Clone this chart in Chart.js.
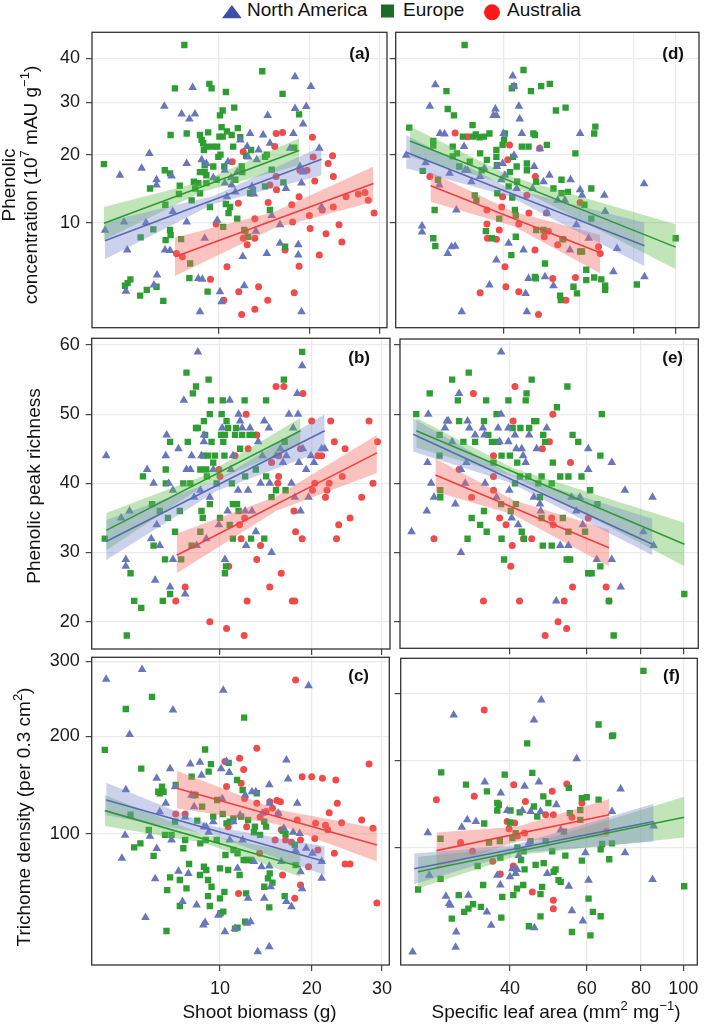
<!DOCTYPE html>
<html><head><meta charset="utf-8">
<script src="https://cdn.jsdelivr.net/npm/chart.js@4.4.0/dist/chart.umd.min.js"></script>
<style>
html,body{margin:0;padding:0;background:#fff;}
#wrap{position:relative;width:709px;height:1027px;overflow:hidden;background:#fff;}
#wrap canvas{position:absolute;}
.lg{position:absolute;top:0;font:19px "Liberation Sans",Arial,Helvetica,sans-serif;line-height:19px;color:#111;white-space:nowrap;}
</style></head><body>
<div id="wrap">
<svg width="709" height="24" style="position:absolute;left:0;top:0">
<polygon points="222,18.3 241.7,18.3 231.9,5" fill="#3D4FA8"/>
<rect x="381" y="4.5" width="13" height="13" fill="#1D6B25"/>
<circle cx="492" cy="12.3" r="8" fill="#FF1A1A"/>
</svg>
<span class="lg" style="left:247px">North America</span>
<span class="lg" style="left:403px">Europe</span>
<span class="lg" style="left:507px">Australia</span>
</div>
<script>
// ---------------- DATA ----------------
const groups = ['North America', 'Europe', 'Australia'];
const xTicksBiomass = [10, 20, 30];
const xTicksSLA = [40, 60, 80, 100];
const yTicksPhenolic = [10, 20, 30, 40];
const yTicksRichness = [20, 30, 40, 50, 60];
const yTicksTrichome = [100, 200, 300];

// (a) shoot biomass vs phenolic concentration
const aNA = [[2.35,9.1],[3.05,16.6],[3.26,10.1],[3.36,3.4],[3.43,6.95],[4.24,17.7],[4.5,10],[4.71,20.2],[5.0,3.85],[5.17,15.9],[5.17,15.1],[5.2,4.65],[5.69,29.2],[5.74,6.95],[6.09,6.9],[6.2,16.5],[6.28,11.4],[6.94,27.6],[7.33,18.5],[7.33,10.1],[7.54,26.6],[7.8,33.2],[7.99,27.6],[8.26,4.37],[8.4,2.1],[8.6,4.3],[8.54,19.1],[8.8,8.2],[8.94,18.5],[9.55,16.2],[9.9,10.3],[10.15,3.37],[10.3,2.7],[10.6,17.4],[10.6,15.4],[10.8,13.4],[10.9,18.8],[11.2,16.2],[11.25,15.1],[11.6,14.1],[11.8,17.1],[12.1,22.6],[12.35,6.3],[12.5,3.8],[12.8,21.4],[12.9,19.6],[13.1,23.8],[13.3,14.9],[13.5,13.8],[13.7,9.0],[13.8,19.1],[14.0,20.8],[14.5,23.5],[14.9,6.6],[15.0,27.3],[15.25,22.0],[15.45,10.9],[16.4,9.75],[16.4,7.65],[17.1,14.6],[17.6,21.1],[18.2,35.6],[18.2,28.7],[18.0,23.8],[18.6,7.5],[18.6,6.45],[18.8,18.0],[19.0,2.1],[19.0,15.4],[19.2,17.1],[19.2,25.6],[19.6,29.1],[20.2,33.4],[21.3,21.1],[21.6,12.0]];
const aEU = [[2.3,18.4],[3.31,3.8],[3.45,4.0],[3.6,4.3],[4.15,3.1],[4.18,8.3],[4.55,3.5],[4.75,14.6],[4.96,9.2],[5.17,3.73],[5.62,2.75],[5.72,17.4],[5.76,12.3],[5.78,8.0],[6.09,16.9],[6.09,9.13],[6.13,8.55],[6.13,23.5],[6.44,33.0],[6.74,13.8],[6.8,15.0],[6.9,8.1],[7.15,43.3],[7.33,23.8],[7.54,4.4],[7.6,5.65],[7.72,12.9],[7.9,15.6],[8.0,14.6],[8.26,15.4],[8.4,23.5],[8.4,17.1],[8.4,13.9],[8.54,22.6],[8.67,22.0],[8.73,20.8],[8.8,18.2],[8.8,17.1],[8.94,21.4],[8.94,16.6],[8.94,15.4],[9.1,24.0],[9.05,3.37],[9.2,34.0],[9.25,12.0],[9.4,33.0],[9.45,21.4],[9.55,18.0],[9.85,15.9],[9.9,21.4],[10.0,19.6],[10.1,23.2],[10.15,27.3],[10.2,20.0],[10.3,25.0],[10.4,28.3],[10.4,23.2],[10.45,9.5],[10.55,18.0],[10.7,32.2],[10.7,12.4],[10.8,24.2],[10.95,11.2],[11.1,12.0],[11.25,23.5],[11.4,21.4],[11.5,28.9],[11.6,15.9],[11.8,10.5],[11.85,24.8],[12.1,23.1],[12.24,18.0],[12.3,17.1],[12.5,9.13],[12.7,19.8],[12.9,8.37],[13.1,13.9],[13.2,20.8],[13.4,14.4],[14.4,36.9],[14.7,14.9],[14.7,19.6],[14.9,20.0],[15.25,11.6],[15.45,17.5],[16.7,31.8],[16.8,15.5],[17.0,7.3],[18.7,27.5],[18.1,21.2]];
const aAU = [[6.56,6.6],[7.0,6.29],[9.3,4.3],[9.8,9.85],[10.5,2.8],[10.8,5.36],[11.3,18.8],[11.9,12.5],[11.95,3.37],[12.24,1.95],[12.4,20.5],[12.4,8.2],[12.6,9.0],[12.8,7.5],[13.6,10.5],[13.6,2.25],[13.6,8.2],[14.0,3.73],[15.0,2.8],[15.05,12.6],[15.25,15.1],[15.95,16.4],[15.8,21.4],[15.95,23.8],[16.0,14.4],[16.7,24.0],[17.0,6.95],[17.8,12.3],[17.9,10.1],[18.1,3.3],[18.7,13.4],[18.7,5.4],[18.8,17.4],[19.7,17.4],[20.0,10.9],[20.1,9.3],[20.4,23.1],[20.5,19.6],[20.7,15.7],[21.3,6.45],[21.7,11.6],[22.2,8.7],[22.5,18.5],[23.1,19.8],[23.2,12.0],[23.2,16.4],[24.0,9.75],[24.4,7.8],[25.0,13.4],[26.8,13.8],[27.8,14.0],[28.3,12.9],[29.2,11.2]];
// fitted lines + confidence bands: x at left/mid/right, line ends, lower, upper
const aNAfitX = [2.34, 9.55, 21.6], aNAline = [7.93, 19.2], aNAlo = [6.04, 12.4, 16.6], aNAhi = [10.1, 13.5, 21.4];
const aEUfitX = [2.30, 8.54, 18.7], aEUline = [9.92, 20.7], aEUlo = [8.0, 14.1, 18.2], aEUhi = [12.0, 15.6, 22.9];
const aAUfitX = [6.44, 15.6, 29.1], aAUline = [6.29, 15.35], aAUlo = [4.56, 9.28, 12.7], aAUhi = [8.29, 11.3, 18.0];

// (b) shoot biomass vs phenolic peak richness
const bNA = [[2.36,44],[3.06,35],[3.3,29],[3.3,28],[3.5,36],[4.5,42],[4.9,40],[5.0,26],[5.1,34],[5.3,31],[4.75,32],[5.7,44],[5.76,47],[5.9,40],[6.0,25],[6.2,29],[6.2,39],[6.6,45],[7.0,52],[7.1,24],[7.2,42],[7.5,42],[7.6,44],[7.8,38],[8.0,31],[8.1,59],[8.3,39],[8.4,44],[8.6,47],[8.6,46],[8.8,32],[9.1,38],[9.4,42],[9.9,34],[10.2,48],[10.45,29],[10.7,36],[10.9,52],[11.0,42],[11.2,44],[11.7,39],[11.75,50],[11.9,49],[12.1,48],[12.4,36],[12.5,31],[12.7,39],[12.9,48],[13.1,36],[13.5,33],[13.75,46],[14.0,40],[14.2,44],[14.4,49],[14.9,48],[15.0,40],[15.2,30],[15.7,44],[16.2,45],[16.5,43],[16.9,44],[17.2,50],[17.5,40],[17.7,48],[17.9,38],[18.2,53],[18.3,50],[18.4,43],[18.6,36],[18.8,57],[18.9,45],[19.3,42],[19.6,38],[19.9,44],[20.3,43],[21.3,45],[21.7,45]];
const bEU = [[2.3,32],[3.35,18],[3.55,27],[3.75,23],[4.15,22],[4.25,41],[4.8,37],[4.9,31],[5.3,36],[5.5,23],[5.65,29],[5.7,42],[5.7,40],[5.85,35],[6.0,46],[6.0,24],[6.35,33],[6.7,36],[6.8,29],[6.96,40],[7.2,56],[7.3,46],[7.5,40],[7.6,31],[7.7,53],[7.95,54],[7.95,48],[8.1,48],[8.3,33],[8.3,42],[8.4,36],[8.5,35],[8.55,44],[8.6,49],[8.7,47],[8.8,42],[8.85,41],[8.95,44],[9.0,55],[9.1,37],[9.1,50],[9.2,52],[9.25,46],[9.4,43],[9.55,44],[9.7,40],[10.0,35],[10.1,47],[10.15,50],[10.25,52],[10.3,46],[10.4,44],[10.45,47],[10.55,28],[10.45,27],[10.6,49],[10.75,48],[10.9,34],[11.1,40],[11.2,32],[11.2,37],[11.4,47],[11.5,48],[11.6,37],[11.75,36],[11.9,45],[12.1,47],[12.35,52],[12.4,41],[12.85,47],[13.0,32],[13.2,47],[13.5,42],[14.4,32],[14.6,52],[14.6,41],[15.2,38],[15.7,39],[16.6,55],[16.7,46],[16.8,39],[18.8,59]];
const bAU = [[6.4,23],[7.1,25],[9.1,20],[9.9,42],[10.0,41],[10.6,19],[10.8,28],[11.4,44],[11.85,34],[12.0,32],[12.3,18],[12.35,35],[12.5,50],[12.6,23],[12.7,45],[13.6,29],[13.6,47],[14.0,31],[15.0,25],[15.2,43],[15.9,40],[16.0,41],[16.0,44],[16.3,27],[15.7,54],[16.6,54],[17.6,23],[17.9,23],[17.8,36],[18.0,33],[18.6,45],[18.8,32],[18.9,53],[20.0,49],[20.1,39],[20.4,40],[20.8,44],[21.3,44],[21.8,38],[22.0,39],[22.3,40],[22.5,49],[23.0,46],[23.3,32],[23.6,34],[24.1,41],[24.5,45],[25.2,35],[26.9,38],[28.0,49],[28.6,40],[29.3,46]];
const bNAfitX = [2.36, 9.7, 21.7], bNAline = [31.6, 47.6], bNAlo = [28.9, 38.9, 44.8], bNAhi = [34.7, 40.4, 50.0];
const bEUfitX = [2.36, 8.6, 18.6], bEUline = [33.2, 47.6], bEUlo = [30.3, 39.7, 45.6], bEUhi = [35.7, 41.1, 49.5];
const bAUfitX = [6.47, 15.7, 29.2], bAUline = [29.6, 44.4], bAUlo = [27.0, 36.0, 41.5], bAUhi = [32.7, 38.1, 47.0];

// (c) shoot biomass vs trichome density
const cNA = [[2.36,274],[3.3,141],[3.1,80.5],[3.26,99],[3.5,202],[4.2,288],[4.4,41.7],[4.67,98],[5.0,65.7],[5.1,88],[5.1,152.7],[5.3,119.8],[5.7,127.7],[6.0,163],[6.1,95],[6.2,232.7],[6.35,144],[6.6,71],[6.9,50.9],[7.1,115],[7.35,69.4],[7.5,168],[7.6,135.8],[7.8,124.5],[8.0,48.9],[8.27,170],[8.4,156],[8.55,37.7],[8.6,106.3],[8.7,39],[8.8,106],[9.0,101.5],[9.4,110.7],[9.85,43],[10.1,163],[10.2,132],[10.3,259],[10.45,34.3],[10.6,171],[10.85,159],[10.9,95],[11.25,110.7],[11.4,35.9],[11.65,73],[11.9,116.8],[12.15,95],[12.4,135.8],[12.6,38.6],[12.7,53],[12.95,39.5],[13.1,139],[13.3,78],[13.5,139],[13.7,25.1],[14.1,74.2],[14.2,118.3],[14.4,53],[14.95,27.3],[14.95,74.7],[14.95,146],[15.0,127.7],[15.1,60.3],[15.95,118.3],[16.3,78],[16.6,104.9],[16.9,172.6],[16.9,50.9],[17.1,152],[17.5,47.9],[17.7,101.5],[18.0,86.4],[18.2,127.7],[18.5,100.5],[18.6,70.6],[18.8,59],[19.3,88.3],[19.6,265],[20.1,84.3],[21.3,78],[21.3,66]];
const cEU = [[2.3,184],[3.3,234],[3.55,117],[3.75,89],[4.15,163],[4.1,92.2],[4.6,103.4],[4.8,250],[4.9,82.3],[5.2,139],[5.3,137.5],[5.45,144],[5.55,139],[5.65,99.2],[5.75,34.7],[5.8,58.1],[6.0,66.6],[6.1,99.2],[6.35,110.7],[6.4,145.9],[6.7,64.8],[6.7,48.3],[6.96,88.3],[7.1,95],[7.2,59.2],[7.4,76.2],[7.6,154.5],[7.7,135.8],[7.9,135.8],[8.05,111.6],[8.27,68.3],[8.3,92.2],[8.45,124.5],[8.6,74.2],[8.7,184.4],[8.75,95],[8.8,71.8],[8.95,64.8],[8.95,54.3],[9.0,159.9],[9.1,48.3],[9.2,168],[9.25,60.3],[9.4,115.3],[9.7,95],[9.75,130.9],[10.0,52.9],[10.0,73],[10.05,44.1],[10.25,117.7],[10.3,45],[10.4,57],[10.5,83],[10.6,109.2],[10.75,71.8],[10.8,169.4],[10.9,110.7],[11.25,113.6],[11.25,86.9],[11.4,35.9],[11.6,151],[11.65,36.4],[11.65,84.3],[11.85,68.3],[12.0,115.3],[12.15,140.8],[12.25,79.2],[12.3,223],[12.4,39.5],[12.5,56],[12.55,79.2],[12.7,112.2],[12.95,79.2],[13.3,101.5],[13.4,106.3],[13.6,137.5],[13.95,99.2],[14.4,60.3],[14.4,110.7],[14.6,106.3],[14.8,65.9],[14.95,47.5],[15.0,69.4],[15.3,63],[16.5,102.6],[16.7,54.3],[16.8,100],[17.9,90.9],[18.0,75.4]];
const cAU = [[6.4,117.7],[7.1,117.7],[7.85,135.8],[10.45,171],[10.6,144.2],[10.75,106.3],[11.85,174.5],[12.0,147.5],[12.25,162],[12.35,132.4],[12.55,106.3],[11.75,56],[13.6,185.9],[13.6,127.7],[13.9,84.3],[13.95,115],[14.6,120],[15.0,129.3],[15.3,123],[15.6,95],[15.8,130.3],[15.95,117.7],[16.2,129.3],[16.3,103.6],[16.45,68.3],[16.8,95],[17.5,93.1],[17.9,52.9],[18.0,273],[18.2,112.2],[18.6,95],[18.6,61.4],[18.8,154.5],[19.6,74.2],[20.0,154.5],[20.4,96.3],[20.5,109.2],[20.8,86.9],[21.4,152.7],[21.8,107.5],[22.1,103.6],[22.3,118.8],[23.0,84.3],[23.2,151],[23.4,127.7],[24.0,109.7],[24.5,76.2],[25.2,76.2],[26.9,112.2],[28.0,168],[28.6,104.9],[29.2,50]];
const cNAfitX = [2.36, 9.3, 21.7], cNAline = [130.9, 78], cNAlo = [116.5, 99, 68.2], cNAhi = [148.2, 106.9, 89.6];
const cEUfitX = [2.3, 8.55, 18.6], cEUline = [120.8, 74.2], cEUlo = [106.9, 92.8, 67.1], cEUhi = [135.8, 99.5, 84.3];
const cAUfitX = [6.47, 15.7, 29.2], cAUline = [142.5, 90.9], cAUlo = [123, 108.6, 78.0], cAUhi = [160.9, 122, 104.9];

// (d) specific leaf area vs phenolic concentration
const dNA = [[23.7,19.9],[25.8,9.6],[25.8,8.9],[26.3,18.6],[26.9,29.2],[27.7,33.8],[28.3,15.1],[28.4,23.8],[29.1,23.7],[29.6,6.6],[29.9,16.9],[30.2,7.3],[30.8,7.35],[31.0,11.6],[31.9,2.1],[32.3,21.4],[32.5,17.4],[32.9,17.4],[33.6,15.6],[35.2,16.4],[36.0,17.7],[37.0,3.85],[37.8,27.3],[38.2,28.6],[38.4,27.3],[38.4,5.97],[38.5,18.0],[39.4,15.9],[39.7,18.5],[39.9,23.8],[40.2,16.6],[41.0,7.65],[41.9,35.8],[42.2,33.5],[42.2,19.9],[42.8,14.6],[43.3,29.2],[43.5,26.6],[44.0,23.8],[44.4,6.95],[44.9,3.25],[45.2,2.1],[45.6,4.37],[46.6,14.6],[47.0,18.0],[48.5,21.0],[49.4,15.6],[49.8,4.5],[50.3,11.2],[51.0,16.6],[52.1,3.8],[53.3,12.9],[55.4,12.9],[56.9,6.95],[57.1,15.9],[58.9,9.75],[60.1,23.8],[60.1,14.4],[60.7,13.6],[62.9,8.2],[68.4,13.6],[68.7,11.4],[71.8,4.93],[73.2,7.1],[84.6,15.3],[84.8,4.5]];
const dEU = [[24.1,24.9],[25.9,17.3],[27.4,22.4],[27.4,21.6],[27.6,11.6],[27.4,8.2],[27.7,7.35],[28.1,15.9],[29.4,32.4],[29.6,28.6],[30.4,21.4],[30.4,19.7],[30.6,27.3],[31.1,20.2],[31.5,18.0],[32.1,23.2],[33.3,18.8],[33.8,25.4],[33.9,23.2],[34.2,13.6],[34.4,23.6],[34.5,12.9],[35.1,23.1],[35.2,20.2],[35.5,17.4],[35.9,23.2],[36.3,9.0],[36.5,19.1],[37.0,23.8],[37.5,8.2],[38.4,20.8],[38.4,19.6],[38.5,18.2],[38.6,13.9],[39.0,10.5],[39.7,21.7],[40.0,22.6],[40.2,23.8],[41.0,14.9],[41.3,17.1],[41.7,33.0],[41.8,13.3],[42.0,19.6],[42.2,33.5],[42.4,11.6],[42.6,10.9],[42.6,8.37],[42.8,18.0],[42.9,15.6],[41.6,6.45],[44.0,21.4],[44.4,37.2],[45.2,17.4],[45.2,18.5],[45.6,21.4],[46.2,32.4],[46.8,23.8],[47.2,23.5],[47.2,4.5],[47.4,4.37],[47.5,9.13],[47.5,15.6],[48.8,33.5],[49.4,9.13],[49.8,5.65],[50.3,21.7],[51.1,34.0],[52.1,14.6],[52.8,28.3],[54.0,3.1],[54.2,2.8],[54.4,15.9],[54.4,13.9],[54.7,8.1],[55.6,28.9],[56.3,14.1],[58.0,3.73],[58.6,20.2],[59.1,3.25],[60.1,6.8],[60.7,6.8],[61.5,12.3],[62.1,5.1],[62.1,4.24],[63.8,14.6],[63.8,10.5],[64.8,23.8],[65.2,25.1],[64.8,4.45],[67.3,4.3],[68.7,3.8],[68.7,3.5],[81.4,3.9],[100.2,8.2],[32.4,43.3]];
const dAU = [[26.9,16.4],[30.8,23.9],[32.9,23.2],[35.2,3.3],[36.5,11.6],[36.5,9.85],[36.6,8.2],[38.4,8.1],[39.0,9.13],[39.5,12.0],[39.7,13.4],[40.2,5.36],[40.4,3.73],[40.8,19.1],[41.2,21.7],[43.3,3.37],[43.3,9.85],[45.2,13.6],[45.7,11.2],[47.2,6.95],[47.3,16.4],[48.1,1.95],[48.4,21.1],[49.6,8.37],[49.8,9.0],[50.2,11.2],[50.7,9.0],[51.9,4.37],[53.3,7.5],[55.0,8.1],[55.7,2.8],[58.6,4.45],[60.1,12.6],[66.3,7.3],[66.9,6.6]];
const dNAfitX = [23.7, 41.0, 84.8], dNAline = [20.4, 7.4], dNAlo = [17.7, 13.5, 5.4], dNAhi = [23.5, 14.7, 10.0];
const dEUfitX = [24.2, 42.0, 100.2], dEUline = [22.4, 7.25], dEUlo = [19.6, 15.0, 5.15], dEUhi = [25.1, 16.3, 9.8];
const dAUfitX = [27.0, 42.0, 66.9], dAUline = [15.0, 6.68], dAUlo = [12.7, 9.6, 4.8], dAUhi = [17.1, 11.4, 8.55];

// (e) specific leaf area vs phenolic peak richness
const eNA = [[23.9,33],[25.9,36],[26.1,50],[26.5,40],[26.0,43],[26.9,38],[28.5,48],[28.8,49],[29.0,49],[29.6,46],[30.1,37],[30.7,53],[31.0,42],[31.0,30],[31.7,40],[31.9,43],[32.1,49],[32.4,48],[33.4,47],[34.8,48],[35.1,47],[35.2,40],[37.4,38],[37.7,48],[38.0,46],[38.3,50],[38.3,59],[39.8,46],[39.8,48],[40.0,39],[40.5,35],[41.2,47],[41.5,45],[41.9,34],[42.7,45],[43.0,44],[43.6,43],[44.4,47],[45.5,38],[46.2,45],[47.0,37],[47.2,36],[48.7,48],[51.2,23],[52.3,31],[54.6,31],[55.5,38],[56.9,36],[58.0,38],[58.9,34],[60.6,45],[60.6,42],[63.4,29],[68.6,43],[68.6,29],[71.9,25],[73.5,39],[81.0,33],[85.0,38],[85.5,31]];
const eEU = [[24.5,50],[26.3,53],[27.7,47],[27.7,44],[27.8,39],[27.8,38],[29.6,55],[30.5,52],[30.7,49],[31.4,46],[32.1,32],[32.3,56],[32.8,35],[33.4,46],[34.3,34],[35.0,49],[35.0,36],[35.4,52],[35.5,33],[35.8,47],[36.5,46],[36.8,43],[37.4,50],[37.7,46],[38.3,37],[38.4,44],[38.4,32],[38.9,29],[39.8,52],[40.1,44],[40.3,36],[40.7,48],[41.2,40],[41.4,37],[41.7,43],[42.3,41],[42.4,48],[42.7,33],[43.2,32],[43.6,52],[43.8,53],[44.2,41],[44.4,48],[45.0,55],[45.6,49],[46.1,49],[46.6,40],[47.0,38],[47.4,41],[47.4,35],[47.7,31],[47.8,47],[48.3,46],[50.0,40],[50.0,31],[50.3,43],[51.4,51],[52.3,41],[53.0,35],[54.1,29],[54.3,54],[54.6,41],[54.6,33],[55.1,29],[55.8,47],[57.5,46],[58.5,41],[59.6,33],[60.6,27],[61.2,39],[61.7,27],[63.6,37],[64.6,28],[64.6,44],[65.1,50],[67.6,23],[69.3,18],[100.5,24]];
const eAU = [[26.9,32],[30.7,42],[33.1,53],[32.8,38],[34.9,23],[36.8,44],[36.8,41],[36.8,39],[38.0,35],[39.3,34],[40.3,28],[40.6,31],[40.8,49],[41.2,54],[42.2,23],[43.1,32],[45.0,32],[47.6,45],[48.3,18],[49.4,46],[50.0,35],[50.3,50],[50.4,34],[51.7,20],[53.4,23],[54.1,19],[55.2,43],[55.8,25],[60.6,35],[66.6,25],[67.6,23]];
const eNAfitX = [24.1, 40.2, 85.0], eNAline = [47.1, 31.2], eNAlo = [44.6, 40.1, 29.6], eNAhi = [49.4, 41.3, 34.9];
const eEUfitX = [24.5, 40.8, 100.6], eEUline = [47.6, 31.2], eEUlo = [45.2, 41.0, 28.0], eEUhi = [49.5, 42.2, 34.3];
const eAUfitX = [27.1, 40.8, 67.6], eAUline = [41.2, 30.7], eAUlo = [38.8, 35.5, 28.0], eAUhi = [43.6, 37.6, 33.3];

// (f) specific leaf area vs trichome density
const fNA = [[23.9,25.2],[25.9,114.4],[26.1,75.3],[28.5,58.9],[29.0,53.7],[29.2,52.5],[29.7,265.2],[30.0,27.6],[30.1,35.7],[31.0,120],[31.9,127.8],[32.1,59.7],[33.4,126],[35.0,171.7],[35.4,48],[36.2,39.6],[37.4,75.3],[38.0,67.4],[38.1,158.3],[39.4,138],[40.0,73.9],[40.5,80.6],[41.2,76.7],[41.5,80],[41.9,92.3],[42.7,138],[43.2,166.4],[44.2,103.8],[44.6,137],[45.4,257.7],[45.5,38.2],[46.6,171.7],[47.0,137],[47.2,289],[48.7,76.7],[51.1,144.5],[52.3,117.2],[54.6,66.4],[55.5,48.7],[56.9,201.8],[58.8,42.2],[59.6,94.9],[60.6,71.2],[68.6,137],[71.8,163.2],[73.5,94.9],[85.0,71.7],[85.5,121.4]];
const fEU = [[24.6,63.9],[27.7,72.2],[27.7,108.3],[27.8,184],[29.4,43.7],[30.5,59.7],[31.4,48],[31.7,168.4],[32.1,50.2],[32.9,53.2],[33.7,83],[34.3,51.4],[34.7,67.4],[34.9,123.9],[35.4,160.3],[35.8,104.6],[37.4,146.5],[37.4,138],[37.7,144.5],[37.9,105.9],[38.0,90.4],[38.2,44.3],[38.4,58.4],[38.9,181],[40.0,125],[40.1,138],[40.5,108.9],[40.7,59.7],[41.2,113.8],[41.5,64.6],[41.6,100],[42.1,136],[42.4,88.3],[42.9,67.4],[43.0,96.2],[43.2,80.1],[43.8,223.3],[44.2,39],[44.6,105.9],[45.0,183.2],[45.4,142.6],[45.8,84],[46.2,131.4],[47.0,60.4],[47.4,65.9],[47.0,45.1],[47.7,154.3],[47.8,85.5],[48.3,105.9],[49.0,146.5],[50.0,96.2],[50.4,78.1],[50.9,80],[51.7,71.2],[52.3,69.8],[53.2,115.5],[53.6,92.3],[54.6,164.4],[54.9,135.1],[55.5,35.7],[58.0,138.6],[58.5,152.3],[58.5,87.7],[60.6,57.2],[61.2,33.8],[62.0,48],[63.9,250.9],[63.9,150.4],[64.6,45.2],[64.6,98.1],[65.1,103.2],[67.6,89],[68.6,233.7],[69.0,234.7],[68.6,103.8],[81.0,338],[100.5,66.4],[60.0,153.2],[58.0,127.8]];
const fAU = [[27.1,150.4],[30.8,104.6],[32.8,96.2],[33.1,154.3],[34.9,273],[36.5,87.1],[38.0,76.2],[39.4,126],[39.8,118.4],[40.7,83],[40.8,168.4],[41.0,124.5],[41.6,111.1],[43.4,148.4],[43.2,114.1],[45.0,62.1],[48.3,133.3],[50.0,160.3],[50.3,133.3],[50.3,56],[50.3,50.1],[54.0,169.2],[55.5,130.5],[58.5,146.5],[66.6,115.5]];
const fNAfitX = [24.1, 40.8, 85.5], fNAline = [80.6, 126.1], fNAlo = [67.9, 94.3, 105.6], fNAhi = [94.3, 101.9, 145.7];
const fEUfitX = [24.6, 42.3, 100.5], fEUline = [78.1, 130.7], fEUlo = [64.6, 93.1, 109.6], fEUhi = [91.3, 100.6, 153.7];
const fAUfitX = [27.1, 41.5, 67.6], fAUline = [96.9, 133.3], fAUlo = [80.0, 105.5, 110.4], fAUhi = [114.5, 120.4, 151.2];

// ---------------- STYLE ----------------
const FONT = '"Liberation Sans", Arial, Helvetica, sans-serif';
Chart.defaults.font.family = FONT;
Chart.defaults.font.size = 18;
Chart.defaults.color = '#1a1a1a';

const STY = {
  NA: {pt: 'rgb(104,119,187)', line: 'rgb(88,106,178)', band: 'rgba(120,137,205,0.38)', style: 'triangle', r: 5.0, order: 1},
  EU: {pt: 'rgb(46,158,50)',  line: 'rgb(46,154,52)',  band: 'rgba(92,186,72,0.38)',  style: 'rect', r: 4.5, order: 2},
  AU: {pt: 'rgb(240,74,74)',  line: 'rgb(238,64,64)',  band: 'rgba(246,104,98,0.40)', style: 'circle', r: 3.5, order: 3}
};

// square-root scale
class SqrtScale extends Chart.LinearScale {
  configure() {
    super.configure();
    this._sMin = Math.sqrt(Math.max(this.min, 0));
    this._sMax = Math.sqrt(Math.max(this.max, 0));
  }
  getPixelForValue(v) {
    if (v === null || v === undefined || isNaN(v)) return NaN;
    return this.getPixelForDecimal((Math.sqrt(Math.max(v, 0)) - this._sMin) / (this._sMax - this._sMin));
  }
  getValueForPixel(p) {
    const s = this._sMin + this.getDecimalForPixel(p) * (this._sMax - this._sMin);
    return s * s;
  }
}
SqrtScale.id = 'sqrt';
SqrtScale.defaults = {};
Chart.register(SqrtScale);

function drawRich(ctx, t, cx, cy) {
  const base = t.size || 19, sup = Math.round(base * 0.68);
  ctx.save();
  ctx.translate(t.x - cx, t.y - cy);
  if (t.rot) ctx.rotate(-Math.PI / 2);
  ctx.textBaseline = 'alphabetic'; ctx.textAlign = 'left'; ctx.fillStyle = '#111';
  let w = 0;
  t.segs.forEach(s => { ctx.font = (s[1] ? sup : base) + 'px ' + FONT; w += ctx.measureText(s[0]).width; });
  let x = -w / 2;
  t.segs.forEach(s => {
    ctx.font = (s[1] ? sup : base) + 'px ' + FONT;
    ctx.fillText(s[0], x, s[1] ? -base * 0.4 : 0);
    x += ctx.measureText(s[0]).width;
  });
  ctx.restore();
}

const framePlugin = {
  id: 'frame',
  afterDraw(chart, args, o) {
    const ctx = chart.ctx, a = chart.chartArea;
    ctx.save();
    ctx.strokeStyle = '#333'; ctx.lineWidth = 1.3;
    ctx.strokeRect(a.left, a.top, a.right - a.left, a.bottom - a.top);
    ctx.font = 'bold 17px ' + FONT; ctx.fillStyle = '#111';
    ctx.textAlign = 'right'; ctx.textBaseline = 'middle';
    ctx.fillText(o.label, o.lx - o.cx, o.ly - o.cy);
    (o.titles || []).forEach(t => drawRich(ctx, t, o.cx, o.cy));
    ctx.restore();
  }
};

function groupSets(pts, fitX, line, lo, hi, st) {
  return [
    {type: 'line', data: [{x: fitX[0], y: line[0]}, {x: fitX[2], y: line[1]}], borderColor: st.line, borderWidth: 1.6,
     pointRadius: 0, fill: false, order: -1, tension: 0},
    {type: 'line', data: fitX.map((x, i) => ({x, y: hi[i]})), borderWidth: 0, borderColor: 'transparent',
     backgroundColor: st.band, pointRadius: 0, fill: '+1', order: 0, tension: 0},
    {type: 'line', data: fitX.map((x, i) => ({x, y: lo[i]})), borderWidth: 0, borderColor: 'transparent',
     pointRadius: 0, fill: false, order: 0, tension: 0},
    {type: 'scatter', data: pts.map(p => ({x: p[0], y: p[1]})), pointStyle: st.style, pointRadius: st.r,
     backgroundColor: st.pt, borderColor: st.pt, borderWidth: 0, order: st.order}
  ];
}

const wrap = document.getElementById('wrap');
function makePanel(p) {
  const cv = document.createElement('canvas');
  cv.width = p.cw; cv.height = p.ch;
  cv.style.left = p.cx + 'px'; cv.style.top = p.cy + 'px';
  cv.style.width = p.cw + 'px'; cv.style.height = p.ch + 'px';
  wrap.appendChild(cv);
  const b = p.box;
  const datasets = [].concat(
    groupSets(p.NA[0], p.NA[1], p.NA[2], p.NA[3], p.NA[4], STY.NA),
    groupSets(p.EU[0], p.EU[1], p.EU[2], p.EU[3], p.EU[4], STY.EU),
    groupSets(p.AU[0], p.AU[1], p.AU[2], p.AU[3], p.AU[4], STY.AU)
  );
  const grid = {color: '#EBEBEB', lineWidth: 1.3, tickColor: '#333', tickWidth: 1.1, tickLength: 6, drawTicks: true};
  new Chart(cv.getContext('2d'), {
    type: 'scatter',
    data: {datasets},
    options: {
      responsive: false, animation: false, devicePixelRatio: 1,
      layout: {padding: {left: 0, top: b.T - p.cy, right: p.cx + p.cw - b.R, bottom: 0}},
      plugins: {legend: {display: false}, tooltip: {enabled: false},
        frame: {label: p.label, lx: p.lx, ly: p.ly, cx: p.cx, cy: p.cy, titles: p.titles}},
      scales: {
        x: {type: p.xType, min: p.xMin, max: p.xMax, bounds: 'data', position: 'bottom',
          afterBuildTicks: s => { s.ticks = p.xTicks.map(v => ({value: v})); },
          afterFit: s => { s.height = p.cy + p.ch - b.B; s.paddingLeft = 0; s.paddingRight = 0; },
          grid, border: {display: false},
          ticks: {display: !!p.xLabels, autoSkip: false, maxRotation: 0, minRotation: 0, padding: 7,
            color: '#1a1a1a', font: {size: 18}, callback: v => String(v)}},
        y: {type: p.yType, min: p.yMin, max: p.yMax, bounds: 'data', position: 'left',
          afterBuildTicks: s => { s.ticks = p.yTicks.map(v => ({value: v})); },
          afterFit: s => { s.width = b.L - p.cx; s.paddingTop = 0; s.paddingBottom = 0; },
          grid, border: {display: false},
          ticks: {display: !!p.yLabels, autoSkip: false, padding: 6, color: '#1a1a1a', font: {size: 18},
            callback: v => String(v)}}
      }
    },
    plugins: [framePlugin]
  });
}

makePanel({cx: 0, cy: 22, cw: 395, ch: 312, box: {L: 92, R: 387, T: 32.3, B: 327.7},
  xType: 'sqrt', xMin: 1.809, xMax: 31.24, xTicks: xTicksBiomass, xLabels: false,
  yType: 'sqrt', yMin: 1.307, yMax: 46.56, yTicks: yTicksPhenolic, yLabels: true,
  label: '(a)', lx: 370, ly: 54,
  titles: [{x: 15, y: 185, rot: true, segs: [['Phenolic']]},
           {x: 37, y: 185, rot: true, segs: [['concentration (10'], ['7', 1], [' mAU g'], ['\u22121', 1], [')']]}],
  NA: [aNA, aNAfitX, aNAline, aNAlo, aNAhi], EU: [aEU, aEUfitX, aEUline, aEUlo, aEUhi], AU: [aAU, aAUfitX, aAUline, aAUlo, aAUhi]});

makePanel({cx: 389, cy: 22, cw: 320, ch: 312, box: {L: 395.7, R: 699, T: 32.3, B: 327.7},
  xType: 'logarithmic', xMin: 22.41, xMax: 113.5, xTicks: xTicksSLA, xLabels: false,
  yType: 'sqrt', yMin: 1.307, yMax: 46.56, yTicks: yTicksPhenolic, yLabels: false,
  label: '(d)', lx: 684, ly: 54, titles: [],
  NA: [dNA, dNAfitX, dNAline, dNAlo, dNAhi], EU: [dEU, dEUfitX, dEUline, dEUlo, dEUhi], AU: [dAU, dAUfitX, dAUline, dAUlo, dAUhi]});

makePanel({cx: 0, cy: 333, cw: 395, ch: 323, box: {L: 91.7, R: 390, T: 338.3, B: 649},
  xType: 'sqrt', xMin: 1.767, xMax: 31.26, xTicks: xTicksBiomass, xLabels: false,
  yType: 'linear', yMin: 16.05, yMax: 60.97, yTicks: yTicksRichness, yLabels: true,
  label: '(b)', lx: 370, ly: 358.5,
  titles: [{x: 40, y: 486, rot: true, segs: [['Phenolic peak richness']]}],
  NA: [bNA, bNAfitX, bNAline, bNAlo, bNAhi], EU: [bEU, bEUfitX, bEUline, bEUlo, bEUhi], AU: [bAU, bAUfitX, bAUline, bAUlo, bAUhi]});

makePanel({cx: 389, cy: 333, cw: 320, ch: 323, box: {L: 400, R: 698.3, T: 339, B: 648.3},
  xType: 'logarithmic', xMin: 22.49, xMax: 108.2, xTicks: xTicksSLA, xLabels: false,
  yType: 'linear', yMin: 16.155, yMax: 60.87, yTicks: yTicksRichness, yLabels: false,
  label: '(e)', lx: 683, ly: 358.5, titles: [],
  NA: [eNA, eNAfitX, eNAline, eNAlo, eNAhi], EU: [eEU, eEUfitX, eEUline, eEUlo, eEUhi], AU: [eAU, eAUfitX, eAUline, eAUlo, eAUhi]});

makePanel({cx: 0, cy: 651, cw: 395, ch: 376, box: {L: 91.7, R: 389.3, T: 657.3, B: 965},
  xType: 'sqrt', xMin: 1.767, xMax: 31.15, xTicks: xTicksBiomass, xLabels: true,
  yType: 'sqrt', yMin: 19.79, yMax: 305.8, yTicks: yTicksTrichome, yLabels: true,
  label: '(c)', lx: 369, ly: 676.5,
  titles: [{x: 30, y: 817, rot: true, segs: [['Trichome density (per 0.3 cm'], ['2', 1], [')']]},
           {x: 259.5, y: 1018, segs: [['Shoot biomass (g)']]}],
  NA: [cNA, cNAfitX, cNAline, cNAlo, cNAhi], EU: [cEU, cEUfitX, cEUline, cEUlo, cEUhi], AU: [cAU, cAUfitX, cAUline, cAUlo, cAUhi]});

makePanel({cx: 389, cy: 651, cw: 320, ch: 376, box: {L: 400.7, R: 697.3, T: 658.3, B: 965},
  xType: 'logarithmic', xMin: 22.44, xMax: 107.7, xTicks: xTicksSLA, xLabels: true,
  yType: 'sqrt', yMin: 19.41, yMax: 360.4, yTicks: yTicksTrichome, yLabels: false,
  label: '(f)', lx: 680, ly: 676.5,
  titles: [{x: 556, y: 1018, segs: [['Specific leaf area (mm'], ['2', 1], [' mg'], ['\u22121', 1], [')']]}],
  NA: [fNA, fNAfitX, fNAline, fNAlo, fNAhi], EU: [fEU, fEUfitX, fEUline, fEUlo, fEUhi], AU: [fAU, fAUfitX, fAUline, fAUlo, fAUhi]});
</script>
</body></html>
